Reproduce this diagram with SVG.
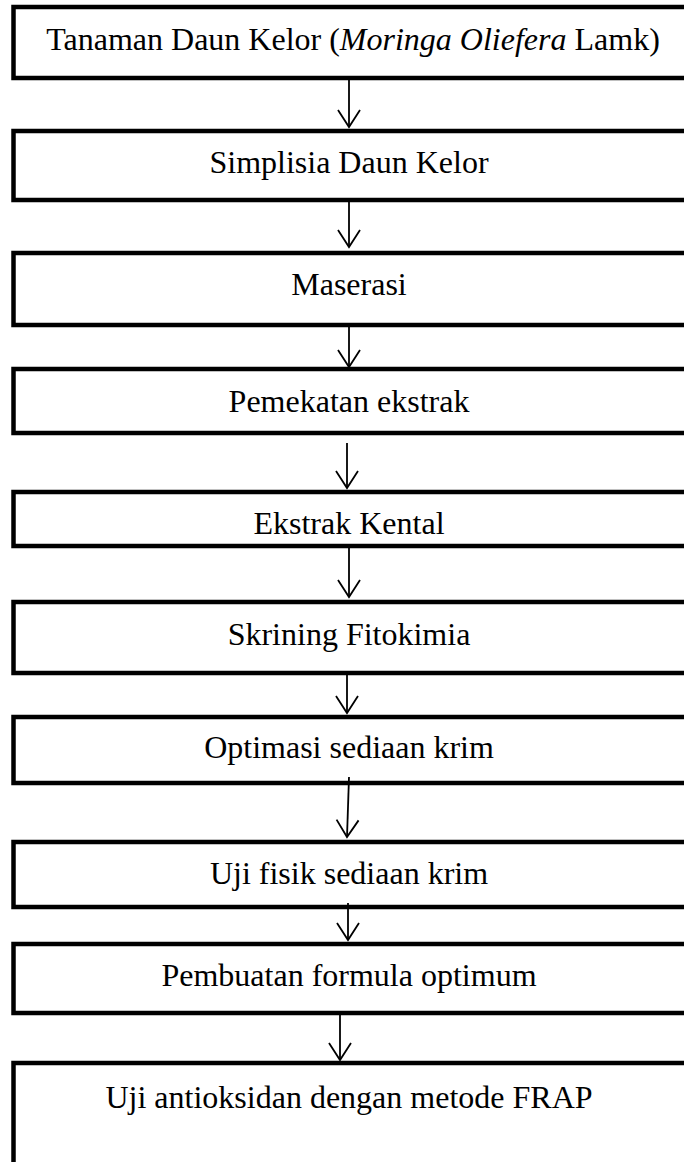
<svg xmlns="http://www.w3.org/2000/svg" width="684" height="1162" viewBox="0 0 684 1162">
  <style>
    .box { fill: #ffffff; stroke: #000000; stroke-width: 4.5; }
    .lbl { font-family: "Liberation Serif", "Times New Roman", serif; font-size: 32px; fill: #000000; text-anchor: middle; }
    .conn { stroke: #000000; stroke-width: 1.8; fill: none; marker-end: url(#vhead); }
  </style>
  <defs>
    <marker id="vhead" markerUnits="userSpaceOnUse" viewBox="-20 -20 40 40" markerWidth="40" markerHeight="40" refX="0" refY="0" orient="auto" overflow="visible">
      <path d="M -17 -11 L 0 0 L -17 11" fill="none" stroke="#000000" stroke-width="1.8"/>
    </marker>
  </defs>
  <rect width="684" height="1162" fill="#ffffff"/>

  <g id="n1">
    <rect class="box" x="13.5" y="7" width="674" height="71"/>
    <text class="lbl" x="353" y="50">Tanaman Daun Kelor (<tspan font-style="italic">Moringa Oliefera</tspan> Lamk)</text>
  </g>
  <g id="n2">
    <rect class="box" x="13.5" y="131" width="674" height="69"/>
    <text class="lbl" x="349" y="173">Simplisia Daun Kelor</text>
  </g>
  <g id="n3">
    <rect class="box" x="13.5" y="253" width="674" height="72"/>
    <text class="lbl" x="349" y="295">Maserasi</text>
  </g>
  <g id="n4">
    <rect class="box" x="13.5" y="369" width="674" height="64"/>
    <text class="lbl" x="349" y="412">Pemekatan ekstrak</text>
  </g>
  <g id="n5">
    <rect class="box" x="13.5" y="492" width="674" height="54"/>
    <text class="lbl" x="349" y="534">Ekstrak Kental</text>
  </g>
  <g id="n6">
    <rect class="box" x="13.5" y="602" width="674" height="71"/>
    <text class="lbl" x="349" y="645">Skrining Fitokimia</text>
  </g>
  <g id="n7">
    <rect class="box" x="13.5" y="717" width="674" height="66"/>
    <text class="lbl" x="349" y="758">Optimasi sediaan krim</text>
  </g>
  <g id="n8">
    <rect class="box" x="13.5" y="842" width="674" height="65"/>
    <text class="lbl" x="349" y="884">Uji fisik sediaan krim</text>
  </g>
  <g id="n9">
    <rect class="box" x="13.5" y="944" width="674" height="69"/>
    <text class="lbl" x="349" y="986">Pembuatan formula optimum</text>
  </g>
  <g id="n10">
    <rect class="box" x="13.5" y="1063" width="674" height="120"/>
    <text class="lbl" x="349" y="1108">Uji antioksidan dengan metode FRAP</text>
  </g>

  <g id="connectors">
    <line class="conn" x1="349" y1="79" x2="349" y2="127"/>
    <line class="conn" x1="349" y1="202" x2="349" y2="247"/>
    <line class="conn" x1="349" y1="327" x2="349" y2="367"/>
    <line class="conn" x1="347" y1="443" x2="347" y2="488"/>
    <line class="conn" x1="349" y1="548" x2="349" y2="597"/>
    <line class="conn" x1="347" y1="675" x2="347" y2="713"/>
    <line class="conn" x1="349" y1="777" x2="347" y2="837"/>
    <line class="conn" x1="348" y1="903" x2="348" y2="940"/>
    <line class="conn" x1="340" y1="1015" x2="340" y2="1060"/>
  </g>
</svg>
